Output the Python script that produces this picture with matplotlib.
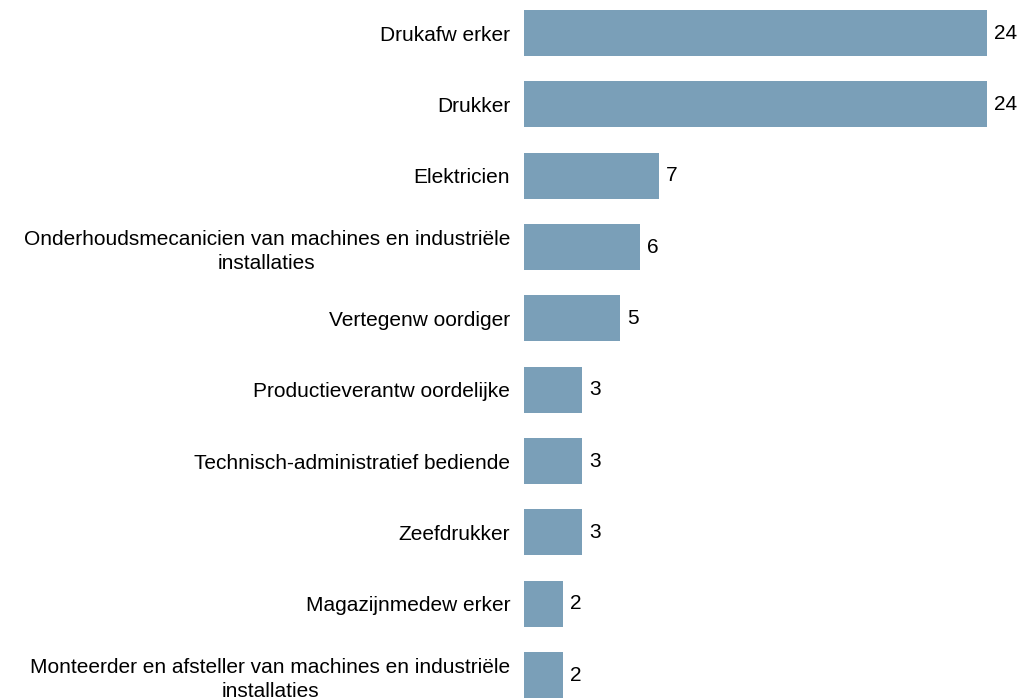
import matplotlib
matplotlib.use("Agg")
import matplotlib.pyplot as plt

# beroepen en aantallen
beroepen = [
    "Drukafw erker",
    "Drukker",
    "Elektricien",
    "Onderhoudsmecanicien van machines en industriële\ninstallaties",
    "Vertegenw oordiger",
    "Productieverantw oordelijke",
    "Technisch-administratief bediende",
    "Zeefdrukker",
    "Magazijnmedew erker",
    "Monteerder en afsteller van machines en industriële\ninstallaties",
]
aantallen = [24, 24, 7, 6, 5, 3, 3, 3, 2, 2]

plt.rcParams["font.family"] = ["Liberation Sans", "DejaVu Sans"]

fig = plt.figure(figsize=(10.23, 7.0), dpi=100)
ax = fig.add_axes([0.5122, -0.0153, 0.481, 1.019])

pos = list(range(len(beroepen)))
bars = ax.barh(pos, aantallen, height=0.645, color="#7a9fb8")

ax.set_ylim(len(beroepen) - 0.5, -0.5)
ax.set_xlim(0, 25.5)
ax.set_yticks(pos)
ax.set_yticklabels(beroepen, fontsize=15, multialignment="center", linespacing=1.3)
ax.tick_params(axis="y", length=0, pad=10)
ax.set_xticks([])
for s in ax.spines.values():
    s.set_visible(False)

for b, v in zip(bars, aantallen):
    ax.annotate(str(v), (b.get_width(), b.get_y() + b.get_height() / 2),
                xytext=(5, 0), textcoords="offset points",
                ha="left", va="center", fontsize=15)

fig.savefig("out.png", dpi=100)
